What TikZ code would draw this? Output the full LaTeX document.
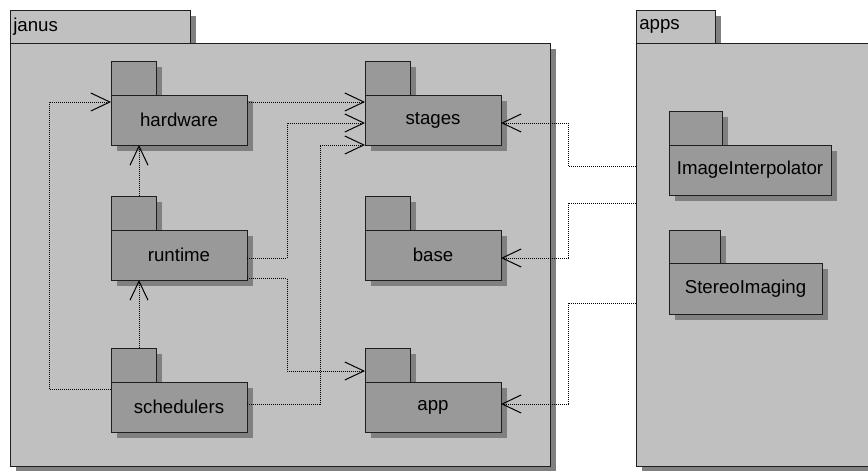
\documentclass[tikz,border=0pt]{standalone}
\usepackage{fontspec}
\setmainfont{Liberation Sans}
\usetikzlibrary{arrows.meta,calc,shadows}
\def\pxu{0.75pt}
\definecolor{outerfill}{RGB}{192,192,192}
\definecolor{innerfill}{RGB}{153,153,153}
\definecolor{shadowgray}{RGB}{128,128,128}
\definecolor{edgegray}{RGB}{30,30,30}
\begin{document}
\begin{tikzpicture}[x=0.75pt,y=-0.75pt,
  font=\fontsize{14}{16}\selectfont,
  sz/.style 2 args={minimum width=#1*\pxu, minimum height=#2*\pxu},
  box/.style={rectangle, draw=edgegray, line width=\pxu, inner sep=0pt, outer sep=0pt,
    drop shadow={shadow xshift=4.5pt, shadow yshift=-4.5pt, fill=shadowgray, opacity=1}},
  outerbox/.style={box, fill=outerfill},
  innerbox/.style={box, fill=innerfill},
  dep/.style={draw=black, line width=\pxu, dash pattern=on 0.75pt off 0.75pt,
    -{Straight Barb[length=14.25pt, width=13.5pt]}}]
\useasboundingbox (0,0) rectangle (868,471);
\fill[white] (0,0) rectangle (868,471);
\clip (0,0) rectangle (868,471);

% outer package: janus
\node[outerbox, sz={180}{33}, anchor=south west] (janus-tab) at (10,43) {};
\node[outerbox, sz={540}{423}, anchor=north west] (janus) at (janus-tab.south west) {};
\node[anchor=west, inner sep=0pt] (janus-label) at ($(janus-tab.west)+(3,0)$) {janus};

% outer package: apps
\node[outerbox, sz={79}{33}, anchor=south west] (apps-tab) at (636,43) {};
\node[outerbox, sz={264}{423}, anchor=north west] (apps) at (apps-tab.south west) {};
\node[anchor=west, inner sep=0pt] (apps-label) at ($(apps-tab.west)+(3,0)$) {apps};

% packages inside janus
\node[innerbox, sz={45}{34}, anchor=south west] (hardware-tab) at (111,95) {};
\node[innerbox, sz={136}{50}, anchor=north west] (hardware) at (hardware-tab.south west) {hardware};

\node[innerbox, sz={45}{34}, anchor=south west] (stages-tab) at (365,95) {};
\node[innerbox, sz={136}{50}, anchor=north west] (stages) at (stages-tab.south west) {stages};

\node[innerbox, sz={45}{34}, anchor=south west] (runtime-tab) at (111,230) {};
\node[innerbox, sz={136}{50}, anchor=north west] (runtime) at (runtime-tab.south west) {runtime};

\node[innerbox, sz={45}{34}, anchor=south west] (base-tab) at (365,230) {};
\node[innerbox, sz={136}{50}, anchor=north west] (base) at (base-tab.south west) {base};

\node[innerbox, sz={45}{34}, anchor=south west] (schedulers-tab) at (111,382) {};
\node[innerbox, sz={136}{50}, anchor=north west] (schedulers) at (schedulers-tab.south west) {schedulers};

\node[innerbox, sz={45}{34}, anchor=south west] (app-tab) at (365,382) {};
\node[innerbox, sz={136}{50}, anchor=north west] (app) at (app-tab.south west) {app};

% packages inside apps
\node[innerbox, sz={53}{34}, anchor=south west] (interp-tab) at (669,145) {};
\node[innerbox, sz={162}{50}, anchor=north west] (interp) at (interp-tab.south west) {ImageInterpolator};

\node[innerbox, sz={51}{33}, anchor=south west] (stereo-tab) at (669,263) {};
\node[innerbox, sz={153}{51}, anchor=north west] (stereo) at (stereo-tab.south west) {StereoImaging};

% dependencies
\draw[dep] ($(hardware.north east)+(0,7)$) -- ($(stages.north west)+(0,7)$);
\draw[dep] ($(runtime.east)+(0,3)$) -- ++(40,0) |- ($(stages.west)+(0,3)$);
\draw[dep] ($(schedulers.east)+(0,-3)$) -- ++(73,0) |- (stages.south west);
\draw[dep] ($(runtime.south east)+(0,-1.5)$) -- ++(40,0) |- ($(app-tab.south west)+(0,-11)$);
\draw[dep] ($(runtime-tab.north west)+(28,0)$) -- ($(hardware.south west)+(28,0)$);
\draw[dep] ($(schedulers-tab.north west)+(28,0)$) -- ($(runtime.south west)+(28,0)$);
\draw[dep] ($(schedulers.north west)+(0,7)$) -- ++(-62,0) |- ($(hardware.north west)+(0,7)$);
\draw[dep] ($(apps.north west)+(0,123)$) -- ++(-68,0) |- ($(stages.east)+(0,3)$);
\draw[dep] ($(apps.north west)+(0,160)$) -- ++(-68,0) |- ($(base.east)+(0,3)$);
\draw[dep] ($(apps.north west)+(0,260)$) -- ++(-68,0) |- ($(app.east)+(0,-3)$);
\end{tikzpicture}
\end{document}
